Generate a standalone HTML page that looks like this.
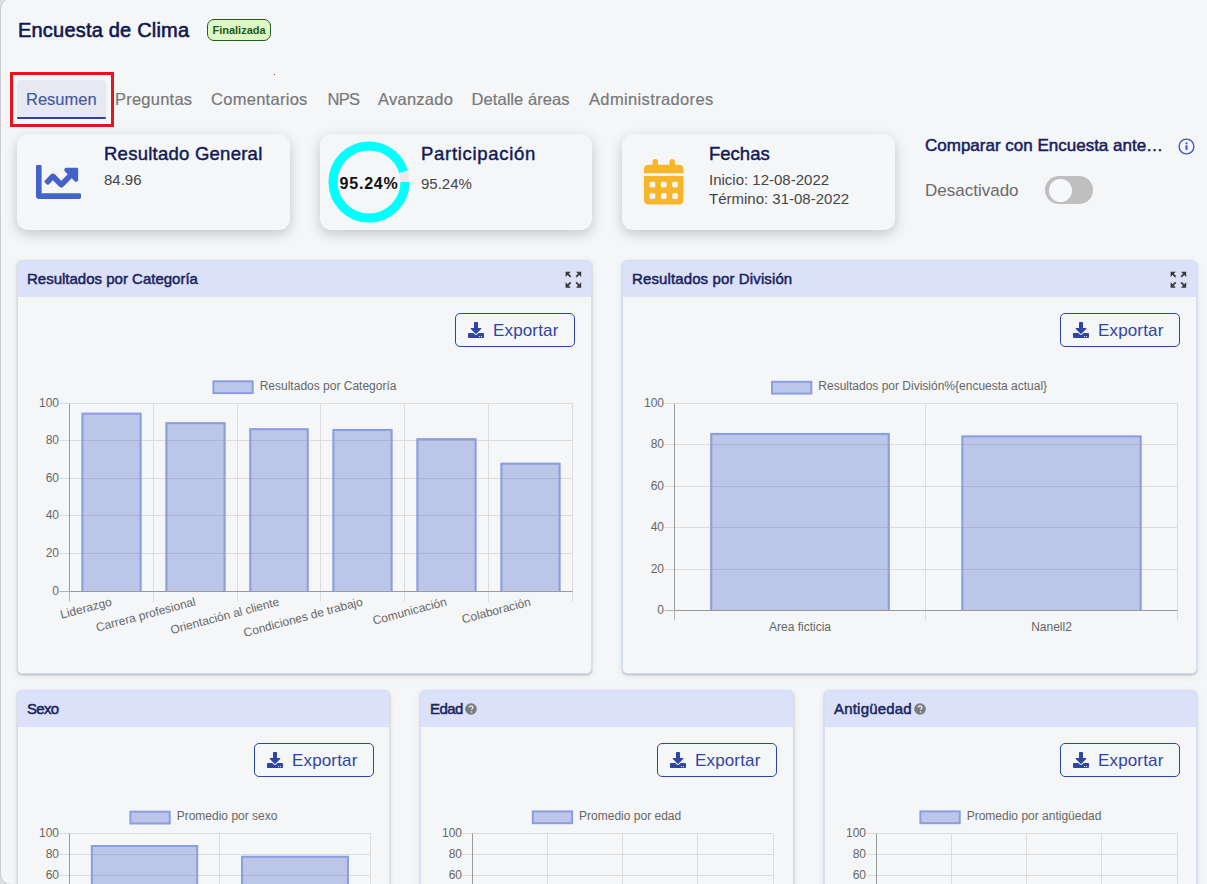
<!DOCTYPE html>
<html><head><meta charset="utf-8">
<style>
*{box-sizing:border-box;margin:0;padding:0}
html,body{width:1207px;height:884px;overflow:hidden;background:#dcdde2;font-family:"Liberation Sans",sans-serif}
.page{position:absolute;left:1px;top:-1px;width:1240px;height:885px;background:#f5f6f8;border-radius:10px;box-shadow:-1px 0 1px rgba(0,0,0,.08)}
.abs{position:absolute;white-space:nowrap}
.title{left:18px;top:18px;font-size:20px;letter-spacing:.2px;color:#111851;line-height:24px;-webkit-text-stroke:.6px #111851}
.badge{left:207px;top:19px;width:64px;height:22px;background:#dff7c4;border:1px solid #1f5e1f;border-radius:7px;font-size:11px;font-weight:bold;color:#1c5a1c;text-align:center;line-height:20px}
.redbox{left:10px;top:72px;width:104px;height:55px;border:3px solid #e8131d}
.tabbg{left:17px;top:80px;width:89px;height:39px;background:#e6e8f2;border-radius:4px 4px 0 0}
.tabline{left:17px;top:117px;width:89px;height:2px;background:#2c40a6;border-radius:1px}
.tab{top:89px;font-size:16.5px;color:#787878;line-height:20px;-webkit-text-stroke:.2px #787878}
.card{position:absolute;top:134px;width:273px;height:96px;background:#f5f6f8;border-radius:11px;box-shadow:0 4px 13px rgba(0,0,0,.2)}
.ctitle{position:absolute;font-size:18.5px;color:#121a58;line-height:22px;white-space:nowrap;-webkit-text-stroke:.45px #121a58}
.ctext{position:absolute;font-size:15px;color:#454545;line-height:19px;white-space:nowrap}
.panel{position:absolute;background:#f5f6f8;border-radius:5px;border:1px solid #d4ddf7;box-shadow:0 1px 2px rgba(0,0,0,.22),0 2px 9px rgba(0,0,0,.07);overflow:hidden}
.phead{position:absolute;left:0;top:0;right:0;height:36px;background:#dae1f8}
.ptitle{position:absolute;left:9px;top:10px;font-size:15px;-webkit-text-stroke:.5px #1b2461;color:#1b2461;line-height:16px;white-space:nowrap}
.qm{position:relative;display:inline-block;width:12px;height:12px;margin-left:2px;vertical-align:-1px}
.expand{position:absolute;top:10.2px;width:16px;height:16px}
.btn{position:absolute;top:52px;width:120px;height:34px;border:1.3px solid #2f45a5;border-radius:5px;color:#2f45a5;font-size:17px;line-height:32px}
.btn svg{position:absolute;left:11.7px;top:8px}
.btn span{position:absolute;left:37px;top:0.5px;letter-spacing:.15px}
svg.charts{position:absolute;left:0;top:0;font-family:"Liberation Sans",sans-serif;font-size:12px;fill:#666}
</style></head><body>
<div class="page"></div>
<div class="abs title">Encuesta de Clima</div>
<div class="abs badge">Finalizada</div>
<div class="abs tabbg"></div>
<div class="abs tabline"></div>
<div class="abs tab" style="left:26px;color:#3b53b1">Resumen</div>
<div class="abs tab" style="left:115px;letter-spacing:.23px">Preguntas</div>
<div class="abs tab" style="left:211px;letter-spacing:.28px">Comentarios</div>
<div class="abs tab" style="left:327.5px;letter-spacing:-.7px">NPS</div>
<div class="abs tab" style="left:378px;letter-spacing:.25px">Avanzado</div>
<div class="abs tab" style="left:471.5px;letter-spacing:.07px">Detalle áreas</div>
<div class="abs tab" style="left:589px;letter-spacing:.36px">Administradores</div>
<div class="abs redbox"></div>
<div class="abs" style="left:274px;top:74px;width:1px;height:1px;background:#e8131d"></div>

<div class="card" style="left:17px">
 <div style="position:absolute;left:19px;top:31px"><svg width="45" height="34" viewBox="0 64 512 384" preserveAspectRatio="none"><path fill="#4562c9" d="M496 384H64V80c0-8.84-7.16-16-16-16H16C7.16 64 0 71.16 0 80v336c0 17.670 14.33 32 32 32h464c8.84 0 16-7.16 16-16v-32c0-8.84-7.16-16-16-16zM464 96H345.94c-21.38 0-32.090 25.85-16.97 40.97l32.4 32.4L288 242.75l-73.37-73.37c-12.5-12.5-32.76-12.5-45.25 0l-68.69 68.69c-6.25 6.25-6.25 16.38 0 22.63l22.62 22.62c6.25 6.25 16.38 6.25 22.63 0L192 237.25l73.37 73.37c12.5 12.5 32.76 12.5 45.250 0l96-96 32.4 32.4c15.12 15.12 40.97 4.41 40.97-16.97V112c.01-8.84-7.15-16-15.99-16z"/></svg></div>
 <div class="ctitle" style="left:87px;top:9px;letter-spacing:.25px">Resultado General</div>
 <div class="ctext" style="left:87px;top:36px">84.96</div>
</div>
<div class="card" style="left:320px;width:272px">
 <svg width="90" height="90" viewBox="0 0 90 90" style="position:absolute;left:4px;top:3px">
  <circle cx="45" cy="45" r="36" fill="none" stroke="#e8e9eb" stroke-width="9"/>
  <circle cx="45" cy="45" r="36" fill="none" stroke="#00ffff" stroke-width="9" stroke-dasharray="215.43 300" />
 </svg>
 <div class="abs" style="left:19.5px;top:40.5px;font-size:16px;font-weight:bold;letter-spacing:.8px;color:#111;line-height:18px">95.24%</div>
 <div class="ctitle" style="left:101px;top:9px;letter-spacing:.7px">Participación</div>
 <div class="ctext" style="left:101px;top:40px">95.24%</div>
</div>
<div class="card" style="left:622px">
 <div style="position:absolute;left:22px;top:25px"><svg width="39.5" height="45.6" viewBox="0 0 448 512" preserveAspectRatio="none"><path fill="#f7b52c" d="M128 0c17.7 0 32 14.3 32 32V64H288V32c0-17.7 14.3-32 32-32s32 14.3 32 32V64h48c26.5 0 48 21.5 48 48v48H0V112C0 85.5 21.5 64 48 64H96V32c0-17.7 14.3-32 32-32zM0 192H448V464c0 26.5-21.5 48-48 48H48c-26.5 0-48-21.5-48-48V192zm64 80v32c0 8.8 7.2 16 16 16h32c8.8 0 16-7.2 16-16V272c0-8.8-7.2-16-16-16H80c-8.8 0-16 7.2-16 16zm128 0v32c0 8.8 7.2 16 16 16h32c8.8 0 16-7.2 16-16V272c0-8.8-7.2-16-16-16H208c-8.8 0-16 7.2-16 16zm144-16c-8.8 0-16 7.2-16 16v32c0 8.8 7.2 16 16 16h32c8.8 0 16-7.2 16-16V272c0-8.8-7.2-16-16-16H336zM64 400v32c0 8.8 7.2 16 16 16h32c8.8 0 16-7.2 16-16V400c0-8.8-7.2-16-16-16H80c-8.8 0-16 7.2-16 16zm144-16c-8.8 0-16 7.2-16 16v32c0 8.8 7.2 16 16 16h32c8.8 0 16-7.2 16-16V400c0-8.8-7.2-16-16-16H208zm112 16v32c0 8.8 7.2 16 16 16h32c8.8 0 16-7.2 16-16V400c0-8.8-7.2-16-16-16H336c-8.8 0-16 7.2-16 16z"/></svg></div>
 <div class="ctitle" style="left:87px;top:9px">Fechas</div>
 <div class="ctext" style="left:87px;top:36px">Inicio: 12-08-2022</div>
 <div class="ctext" style="left:87px;top:55px">Término: 31-08-2022</div>
</div>
<div class="abs" style="left:925px;top:137px;font-size:17px;-webkit-text-stroke:.5px #172060;color:#172060;line-height:18px">Comparar con Encuesta ante…</div>
<div class="abs" style="left:1178.3px;top:137.6px"><svg width="17" height="17" viewBox="0 0 17 17"><circle cx="8.5" cy="8.5" r="7.4" fill="none" stroke="#3a56c8" stroke-width="1.4"/><rect x="7.5" y="7.3" width="2" height="4.6" fill="#3a56c8"/><circle cx="8.5" cy="5.3" r="1.1" fill="#3a56c8"/></svg></div>
<div class="abs" style="left:925px;top:181px;font-size:17px;color:#6a6a6a;line-height:19px">Desactivado</div>
<div class="abs" style="left:1045px;top:176px;width:48px;height:28px;border-radius:14px;background:#bfbfc0"></div>
<div class="abs" style="left:1049px;top:178.5px;width:23px;height:23px;border-radius:50%;background:#f7f8fb"></div>

<div class="panel" style="left:17px;top:260px;width:575px;height:414px"><div class="phead"></div><div class="ptitle"><span style="letter-spacing:0px">Resultados por Categoría</span></div><div class="expand" style="left:547.4px"><svg width="20.8" height="21.33" viewBox="0 0 24 24" preserveAspectRatio="none" style="position:absolute;left:-2.6px;top:-2.67px"><path fill="#3a3a3a" d="M15 3l2.3 2.3-2.89 2.87 1.42 1.42L18.7 6.7 21 9V3zM3 9l2.3-2.3 2.87 2.89 1.42-1.42L6.7 5.3 9 3H3zm6 12l-2.3-2.3 2.89-2.87-1.42-1.42L5.3 17.3 3 15v6zm12-6l-2.3 2.3-2.87-2.89-1.42 1.42 2.89 2.87L15 21h6z"/></svg></div><div class="btn" style="left:437px"><svg width="16" height="16" viewBox="0 0 512 512"><path fill="#2f45a5" d="M216 0h80c13.3 0 24 10.7 24 24v168h87.7c17.8 0 26.7 21.5 14.1 34.1L269.7 378.3c-7.5 7.5-19.8 7.5-27.3 0L90.1 226.1c-12.6-12.6-3.7-34.1 14.1-34.1H192V24c0-13.3 10.7-24 24-24zm296 376v112c0 13.3-10.7 24-24 24H24c-13.3 0-24-10.7-24-24V376c0-13.3 10.7-24 24-24h146.7l49 49c20.1 20.1 52.5 20.1 72.6 0l49-49H488c13.3 0 24 10.7 24 24zm-124 88c0-11-9-20-20-20s-20 9-20 20 9 20 20 20 20-9 20-20zm64 0c0-11-9-20-20-20s-20 9-20 20 9 20 20 20 20-9 20-20z"/></svg><span>Exportar</span></div></div>
<div class="panel" style="left:622px;top:260px;width:575px;height:414px"><div class="phead"></div><div class="ptitle"><span style="letter-spacing:0.12px">Resultados por División</span></div><div class="expand" style="left:547.4px"><svg width="20.8" height="21.33" viewBox="0 0 24 24" preserveAspectRatio="none" style="position:absolute;left:-2.6px;top:-2.67px"><path fill="#3a3a3a" d="M15 3l2.3 2.3-2.89 2.87 1.42 1.42L18.7 6.7 21 9V3zM3 9l2.3-2.3 2.87 2.89 1.42-1.42L6.7 5.3 9 3H3zm6 12l-2.3-2.3 2.89-2.87-1.42-1.42L5.3 17.3 3 15v6zm12-6l-2.3 2.3-2.87-2.89-1.42 1.42 2.89 2.87L15 21h6z"/></svg></div><div class="btn" style="left:437px"><svg width="16" height="16" viewBox="0 0 512 512"><path fill="#2f45a5" d="M216 0h80c13.3 0 24 10.7 24 24v168h87.7c17.8 0 26.7 21.5 14.1 34.1L269.7 378.3c-7.5 7.5-19.8 7.5-27.3 0L90.1 226.1c-12.6-12.6-3.7-34.1 14.1-34.1H192V24c0-13.3 10.7-24 24-24zm296 376v112c0 13.3-10.7 24-24 24H24c-13.3 0-24-10.7-24-24V376c0-13.3 10.7-24 24-24h146.7l49 49c20.1 20.1 52.5 20.1 72.6 0l49-49H488c13.3 0 24 10.7 24 24zm-124 88c0-11-9-20-20-20s-20 9-20 20 9 20 20 20 20-9 20-20zm64 0c0-11-9-20-20-20s-20 9-20 20 9 20 20 20 20-9 20-20z"/></svg><span>Exportar</span></div></div>
<div class="panel" style="left:17px;top:690px;width:373px;height:300px"><div class="phead"></div><div class="ptitle"><span style="letter-spacing:-0.7px">Sexo</span></div><div class="btn" style="left:236px"><svg width="16" height="16" viewBox="0 0 512 512"><path fill="#2f45a5" d="M216 0h80c13.3 0 24 10.7 24 24v168h87.7c17.8 0 26.7 21.5 14.1 34.1L269.7 378.3c-7.5 7.5-19.8 7.5-27.3 0L90.1 226.1c-12.6-12.6-3.7-34.1 14.1-34.1H192V24c0-13.3 10.7-24 24-24zm296 376v112c0 13.3-10.7 24-24 24H24c-13.3 0-24-10.7-24-24V376c0-13.3 10.7-24 24-24h146.7l49 49c20.1 20.1 52.5 20.1 72.6 0l49-49H488c13.3 0 24 10.7 24 24zm-124 88c0-11-9-20-20-20s-20 9-20 20 9 20 20 20 20-9 20-20zm64 0c0-11-9-20-20-20s-20 9-20 20 9 20 20 20 20-9 20-20z"/></svg><span>Exportar</span></div></div>
<div class="panel" style="left:420px;top:690px;width:374px;height:300px"><div class="phead"></div><div class="ptitle"><span style="letter-spacing:-0.55px">Edad</span><span class="qm"><svg width="12" height="12" viewBox="0 0 12 12" style="position:absolute"><circle cx="6" cy="6" r="5.8" fill="#7b7b7b"/><path d="M4.3 4.6c0-1 .8-1.7 1.8-1.7s1.8.7 1.8 1.6c0 1.2-1.3 1.2-1.3 2.2" fill="none" stroke="#dae1f8" stroke-width="1.5"/><rect x="5.8" y="8.2" width="1.5" height="1.5" fill="#dae1f8"/></svg></span></div><div class="btn" style="left:236px"><svg width="16" height="16" viewBox="0 0 512 512"><path fill="#2f45a5" d="M216 0h80c13.3 0 24 10.7 24 24v168h87.7c17.8 0 26.7 21.5 14.1 34.1L269.7 378.3c-7.5 7.5-19.8 7.5-27.3 0L90.1 226.1c-12.6-12.6-3.7-34.1 14.1-34.1H192V24c0-13.3 10.7-24 24-24zm296 376v112c0 13.3-10.7 24-24 24H24c-13.3 0-24-10.7-24-24V376c0-13.3 10.7-24 24-24h146.7l49 49c20.1 20.1 52.5 20.1 72.6 0l49-49H488c13.3 0 24 10.7 24 24zm-124 88c0-11-9-20-20-20s-20 9-20 20 9 20 20 20 20-9 20-20zm64 0c0-11-9-20-20-20s-20 9-20 20 9 20 20 20 20-9 20-20z"/></svg><span>Exportar</span></div></div>
<div class="panel" style="left:824px;top:690px;width:373px;height:300px"><div class="phead"></div><div class="ptitle"><span style="letter-spacing:0.2px">Antigüedad</span><span class="qm"><svg width="12" height="12" viewBox="0 0 12 12" style="position:absolute"><circle cx="6" cy="6" r="5.8" fill="#7b7b7b"/><path d="M4.3 4.6c0-1 .8-1.7 1.8-1.7s1.8.7 1.8 1.6c0 1.2-1.3 1.2-1.3 2.2" fill="none" stroke="#dae1f8" stroke-width="1.5"/><rect x="5.8" y="8.2" width="1.5" height="1.5" fill="#dae1f8"/></svg></span></div><div class="btn" style="left:235px"><svg width="16" height="16" viewBox="0 0 512 512"><path fill="#2f45a5" d="M216 0h80c13.3 0 24 10.7 24 24v168h87.7c17.8 0 26.7 21.5 14.1 34.1L269.7 378.3c-7.5 7.5-19.8 7.5-27.3 0L90.1 226.1c-12.6-12.6-3.7-34.1 14.1-34.1H192V24c0-13.3 10.7-24 24-24zm296 376v112c0 13.3-10.7 24-24 24H24c-13.3 0-24-10.7-24-24V376c0-13.3 10.7-24 24-24h146.7l49 49c20.1 20.1 52.5 20.1 72.6 0l49-49H488c13.3 0 24 10.7 24 24zm-124 88c0-11-9-20-20-20s-20 9-20 20 9 20 20 20 20-9 20-20zm64 0c0-11-9-20-20-20s-20 9-20 20 9 20 20 20 20-9 20-20z"/></svg><span>Exportar</span></div></div>
<svg class="charts" width="1207" height="884" viewBox="0 0 1207 884">
<rect x="213.4" y="381.3" width="39.3" height="11.8" fill="#bcc6ea" stroke="#8c9de0" stroke-width="2"/><text x="259.7" y="389.9">Resultados por Categoría</text>
<line x1="69.5" y1="403.5" x2="572.5" y2="403.5" stroke="#dcdcdc" stroke-width="1"/>
<line x1="59.5" y1="403.5" x2="69.5" y2="403.5" stroke="#dcdcdc" stroke-width="1"/>
<line x1="69.5" y1="440.5" x2="572.5" y2="440.5" stroke="#dcdcdc" stroke-width="1"/>
<line x1="59.5" y1="440.5" x2="69.5" y2="440.5" stroke="#dcdcdc" stroke-width="1"/>
<line x1="69.5" y1="478.5" x2="572.5" y2="478.5" stroke="#dcdcdc" stroke-width="1"/>
<line x1="59.5" y1="478.5" x2="69.5" y2="478.5" stroke="#dcdcdc" stroke-width="1"/>
<line x1="69.5" y1="515.5" x2="572.5" y2="515.5" stroke="#dcdcdc" stroke-width="1"/>
<line x1="59.5" y1="515.5" x2="69.5" y2="515.5" stroke="#dcdcdc" stroke-width="1"/>
<line x1="69.5" y1="553.5" x2="572.5" y2="553.5" stroke="#dcdcdc" stroke-width="1"/>
<line x1="59.5" y1="553.5" x2="69.5" y2="553.5" stroke="#dcdcdc" stroke-width="1"/>
<line x1="153.5" y1="403.5" x2="153.5" y2="601.5" stroke="#dcdcdc" stroke-width="1"/>
<line x1="237.5" y1="403.5" x2="237.5" y2="601.5" stroke="#dcdcdc" stroke-width="1"/>
<line x1="320.5" y1="403.5" x2="320.5" y2="601.5" stroke="#dcdcdc" stroke-width="1"/>
<line x1="404.5" y1="403.5" x2="404.5" y2="601.5" stroke="#dcdcdc" stroke-width="1"/>
<line x1="488.5" y1="403.5" x2="488.5" y2="601.5" stroke="#dcdcdc" stroke-width="1"/>
<line x1="572.5" y1="403.5" x2="572.5" y2="601.5" stroke="#dcdcdc" stroke-width="1"/>
<rect x="81.47" y="412.71" width="60.06" height="178.79" fill="rgba(55,86,199,.3)"/>
<path d="M82.47 591.5V413.71H140.53V591.5" fill="none" stroke="#8c9de0" stroke-width="2"/>
<rect x="165.47" y="422.3" width="60.06" height="169.2" fill="rgba(55,86,199,.3)"/>
<path d="M166.47 591.5V423.3H224.53V591.5" fill="none" stroke="#8c9de0" stroke-width="2"/>
<rect x="249.33" y="428.32" width="59.34" height="163.18" fill="rgba(55,86,199,.3)"/>
<path d="M250.33 591.5V429.32H307.67V591.5" fill="none" stroke="#8c9de0" stroke-width="2"/>
<rect x="332.47" y="428.88" width="60.06" height="162.62" fill="rgba(55,86,199,.3)"/>
<path d="M333.47 591.5V429.88H391.53V591.5" fill="none" stroke="#8c9de0" stroke-width="2"/>
<rect x="416.47" y="438.28" width="60.06" height="153.22" fill="rgba(55,86,199,.3)"/>
<path d="M417.47 591.5V439.28H475.53V591.5" fill="none" stroke="#8c9de0" stroke-width="2"/>
<rect x="500.47" y="462.72" width="60.06" height="128.78" fill="rgba(55,86,199,.3)"/>
<path d="M501.47 591.5V463.72H559.53V591.5" fill="none" stroke="#8c9de0" stroke-width="2"/>
<line x1="69.5" y1="403.5" x2="69.5" y2="591.5" stroke="#9a9a9a" stroke-width="1"/>
<line x1="69.5" y1="591.5" x2="69.5" y2="601.5" stroke="#b4b4b4" stroke-width="1"/>
<line x1="59.5" y1="591.5" x2="69.5" y2="591.5" stroke="#b4b4b4" stroke-width="1"/>
<line x1="69.5" y1="591.5" x2="572.5" y2="591.5" stroke="#9a9a9a" stroke-width="1"/>
<text x="59" y="407.1" text-anchor="end">100</text>
<text x="59" y="444.1" text-anchor="end">80</text>
<text x="59" y="482.1" text-anchor="end">60</text>
<text x="59" y="519.1" text-anchor="end">40</text>
<text x="59" y="557.1" text-anchor="end">20</text>
<text x="59" y="595.1" text-anchor="end">0</text>
<text x="112.4" y="605.2" text-anchor="end" transform="rotate(-15 112.4 605.2)">Liderazgo</text>
<text x="196.4" y="605.2" text-anchor="end" transform="rotate(-15 196.4 605.2)">Carrera profesional</text>
<text x="279.9" y="605.2" text-anchor="end" transform="rotate(-15 279.9 605.2)">Orientación al cliente</text>
<text x="363.4" y="605.2" text-anchor="end" transform="rotate(-15 363.4 605.2)">Condiciones de trabajo</text>
<text x="447.4" y="605.2" text-anchor="end" transform="rotate(-15 447.4 605.2)">Comunicación</text>
<text x="531.4" y="605.2" text-anchor="end" transform="rotate(-15 531.4 605.2)">Colaboración</text>
<rect x="772" y="381.8" width="39.3" height="11.8" fill="#bcc6ea" stroke="#8c9de0" stroke-width="2"/><text x="818.3" y="390.4">Resultados por División%{encuesta actual}</text>
<line x1="674.5" y1="403.5" x2="1177.5" y2="403.5" stroke="#dcdcdc" stroke-width="1"/>
<line x1="664.5" y1="403.5" x2="674.5" y2="403.5" stroke="#dcdcdc" stroke-width="1"/>
<line x1="674.5" y1="444.5" x2="1177.5" y2="444.5" stroke="#dcdcdc" stroke-width="1"/>
<line x1="664.5" y1="444.5" x2="674.5" y2="444.5" stroke="#dcdcdc" stroke-width="1"/>
<line x1="674.5" y1="486.5" x2="1177.5" y2="486.5" stroke="#dcdcdc" stroke-width="1"/>
<line x1="664.5" y1="486.5" x2="674.5" y2="486.5" stroke="#dcdcdc" stroke-width="1"/>
<line x1="674.5" y1="527.5" x2="1177.5" y2="527.5" stroke="#dcdcdc" stroke-width="1"/>
<line x1="664.5" y1="527.5" x2="674.5" y2="527.5" stroke="#dcdcdc" stroke-width="1"/>
<line x1="674.5" y1="569.5" x2="1177.5" y2="569.5" stroke="#dcdcdc" stroke-width="1"/>
<line x1="664.5" y1="569.5" x2="674.5" y2="569.5" stroke="#dcdcdc" stroke-width="1"/>
<line x1="925.5" y1="403.5" x2="925.5" y2="620.5" stroke="#dcdcdc" stroke-width="1"/>
<line x1="1177.5" y1="403.5" x2="1177.5" y2="620.5" stroke="#dcdcdc" stroke-width="1"/>
<rect x="710.27" y="432.89" width="179.47" height="177.61" fill="rgba(55,86,199,.3)"/>
<path d="M711.27 610.5V433.89H888.73V610.5" fill="none" stroke="#8c9de0" stroke-width="2"/>
<rect x="961.41" y="435.38" width="180.18" height="175.12" fill="rgba(55,86,199,.3)"/>
<path d="M962.41 610.5V436.38H1140.59V610.5" fill="none" stroke="#8c9de0" stroke-width="2"/>
<line x1="674.5" y1="403.5" x2="674.5" y2="610.5" stroke="#9a9a9a" stroke-width="1"/>
<line x1="674.5" y1="610.5" x2="674.5" y2="620.5" stroke="#b4b4b4" stroke-width="1"/>
<line x1="664.5" y1="610.5" x2="674.5" y2="610.5" stroke="#b4b4b4" stroke-width="1"/>
<line x1="674.5" y1="610.5" x2="1177.5" y2="610.5" stroke="#9a9a9a" stroke-width="1"/>
<text x="664" y="407.1" text-anchor="end">100</text>
<text x="664" y="448.1" text-anchor="end">80</text>
<text x="664" y="490.1" text-anchor="end">60</text>
<text x="664" y="531.1" text-anchor="end">40</text>
<text x="664" y="573.1" text-anchor="end">20</text>
<text x="664" y="614.1" text-anchor="end">0</text>
<text x="800" y="631" text-anchor="middle">Area ficticia</text>
<text x="1051.5" y="631" text-anchor="middle">Nanell2</text>
<rect x="130.4" y="811.7" width="39.3" height="11.8" fill="#bcc6ea" stroke="#8c9de0" stroke-width="2"/><text x="176.7" y="820.3">Promedio por sexo</text>
<line x1="69.5" y1="833.5" x2="370.5" y2="833.5" stroke="#dcdcdc" stroke-width="1"/>
<line x1="59.5" y1="833.5" x2="69.5" y2="833.5" stroke="#dcdcdc" stroke-width="1"/>
<line x1="69.5" y1="854.5" x2="370.5" y2="854.5" stroke="#dcdcdc" stroke-width="1"/>
<line x1="59.5" y1="854.5" x2="69.5" y2="854.5" stroke="#dcdcdc" stroke-width="1"/>
<line x1="69.5" y1="875.5" x2="370.5" y2="875.5" stroke="#dcdcdc" stroke-width="1"/>
<line x1="59.5" y1="875.5" x2="69.5" y2="875.5" stroke="#dcdcdc" stroke-width="1"/>
<line x1="69.5" y1="896.5" x2="370.5" y2="896.5" stroke="#dcdcdc" stroke-width="1"/>
<line x1="59.5" y1="896.5" x2="69.5" y2="896.5" stroke="#dcdcdc" stroke-width="1"/>
<line x1="69.5" y1="917.5" x2="370.5" y2="917.5" stroke="#dcdcdc" stroke-width="1"/>
<line x1="59.5" y1="917.5" x2="69.5" y2="917.5" stroke="#dcdcdc" stroke-width="1"/>
<line x1="219.5" y1="833.5" x2="219.5" y2="948.5" stroke="#dcdcdc" stroke-width="1"/>
<line x1="370.5" y1="833.5" x2="370.5" y2="948.5" stroke="#dcdcdc" stroke-width="1"/>
<rect x="90.88" y="845.05" width="107.25" height="93.45" fill="rgba(55,86,199,.3)"/>
<path d="M91.88 938.5V846.05H197.12V938.5" fill="none" stroke="#8c9de0" stroke-width="2"/>
<rect x="241.02" y="855.87" width="107.96" height="82.64" fill="rgba(55,86,199,.3)"/>
<path d="M242.02 938.5V856.87H347.98V938.5" fill="none" stroke="#8c9de0" stroke-width="2"/>
<line x1="69.5" y1="833.5" x2="69.5" y2="938.5" stroke="#9a9a9a" stroke-width="1"/>
<line x1="69.5" y1="938.5" x2="69.5" y2="948.5" stroke="#b4b4b4" stroke-width="1"/>
<line x1="59.5" y1="938.5" x2="69.5" y2="938.5" stroke="#b4b4b4" stroke-width="1"/>
<line x1="69.5" y1="938.5" x2="370.5" y2="938.5" stroke="#9a9a9a" stroke-width="1"/>
<text x="59" y="837.1" text-anchor="end">100</text>
<text x="59" y="858.1" text-anchor="end">80</text>
<text x="59" y="879.1" text-anchor="end">60</text>
<text x="59" y="900.1" text-anchor="end">40</text>
<text x="59" y="921.1" text-anchor="end">20</text>
<text x="59" y="942.1" text-anchor="end">0</text>
<rect x="532.8" y="811.4" width="39.3" height="11.8" fill="#bcc6ea" stroke="#8c9de0" stroke-width="2"/><text x="579.1" y="820">Promedio por edad</text>
<line x1="472.5" y1="833.5" x2="773.5" y2="833.5" stroke="#dcdcdc" stroke-width="1"/>
<line x1="462.5" y1="833.5" x2="472.5" y2="833.5" stroke="#dcdcdc" stroke-width="1"/>
<line x1="472.5" y1="854.5" x2="773.5" y2="854.5" stroke="#dcdcdc" stroke-width="1"/>
<line x1="462.5" y1="854.5" x2="472.5" y2="854.5" stroke="#dcdcdc" stroke-width="1"/>
<line x1="472.5" y1="875.5" x2="773.5" y2="875.5" stroke="#dcdcdc" stroke-width="1"/>
<line x1="462.5" y1="875.5" x2="472.5" y2="875.5" stroke="#dcdcdc" stroke-width="1"/>
<line x1="472.5" y1="896.5" x2="773.5" y2="896.5" stroke="#dcdcdc" stroke-width="1"/>
<line x1="462.5" y1="896.5" x2="472.5" y2="896.5" stroke="#dcdcdc" stroke-width="1"/>
<line x1="472.5" y1="917.5" x2="773.5" y2="917.5" stroke="#dcdcdc" stroke-width="1"/>
<line x1="462.5" y1="917.5" x2="472.5" y2="917.5" stroke="#dcdcdc" stroke-width="1"/>
<line x1="547.5" y1="833.5" x2="547.5" y2="948.5" stroke="#dcdcdc" stroke-width="1"/>
<line x1="622.5" y1="833.5" x2="622.5" y2="948.5" stroke="#dcdcdc" stroke-width="1"/>
<line x1="697.5" y1="833.5" x2="697.5" y2="948.5" stroke="#dcdcdc" stroke-width="1"/>
<line x1="773.5" y1="833.5" x2="773.5" y2="948.5" stroke="#dcdcdc" stroke-width="1"/>
<line x1="472.5" y1="833.5" x2="472.5" y2="938.5" stroke="#9a9a9a" stroke-width="1"/>
<line x1="472.5" y1="938.5" x2="472.5" y2="948.5" stroke="#b4b4b4" stroke-width="1"/>
<line x1="462.5" y1="938.5" x2="472.5" y2="938.5" stroke="#b4b4b4" stroke-width="1"/>
<line x1="472.5" y1="938.5" x2="773.5" y2="938.5" stroke="#9a9a9a" stroke-width="1"/>
<text x="462" y="837.1" text-anchor="end">100</text>
<text x="462" y="858.1" text-anchor="end">80</text>
<text x="462" y="879.1" text-anchor="end">60</text>
<text x="462" y="900.1" text-anchor="end">40</text>
<text x="462" y="921.1" text-anchor="end">20</text>
<text x="462" y="942.1" text-anchor="end">0</text>
<rect x="920.4" y="811.4" width="39.3" height="11.8" fill="#bcc6ea" stroke="#8c9de0" stroke-width="2"/><text x="966.7" y="820">Promedio por antigüedad</text>
<line x1="876.5" y1="833.5" x2="1177.5" y2="833.5" stroke="#dcdcdc" stroke-width="1"/>
<line x1="866.5" y1="833.5" x2="876.5" y2="833.5" stroke="#dcdcdc" stroke-width="1"/>
<line x1="876.5" y1="854.5" x2="1177.5" y2="854.5" stroke="#dcdcdc" stroke-width="1"/>
<line x1="866.5" y1="854.5" x2="876.5" y2="854.5" stroke="#dcdcdc" stroke-width="1"/>
<line x1="876.5" y1="875.5" x2="1177.5" y2="875.5" stroke="#dcdcdc" stroke-width="1"/>
<line x1="866.5" y1="875.5" x2="876.5" y2="875.5" stroke="#dcdcdc" stroke-width="1"/>
<line x1="876.5" y1="896.5" x2="1177.5" y2="896.5" stroke="#dcdcdc" stroke-width="1"/>
<line x1="866.5" y1="896.5" x2="876.5" y2="896.5" stroke="#dcdcdc" stroke-width="1"/>
<line x1="876.5" y1="917.5" x2="1177.5" y2="917.5" stroke="#dcdcdc" stroke-width="1"/>
<line x1="866.5" y1="917.5" x2="876.5" y2="917.5" stroke="#dcdcdc" stroke-width="1"/>
<line x1="951.5" y1="833.5" x2="951.5" y2="948.5" stroke="#dcdcdc" stroke-width="1"/>
<line x1="1026.5" y1="833.5" x2="1026.5" y2="948.5" stroke="#dcdcdc" stroke-width="1"/>
<line x1="1101.5" y1="833.5" x2="1101.5" y2="948.5" stroke="#dcdcdc" stroke-width="1"/>
<line x1="1177.5" y1="833.5" x2="1177.5" y2="948.5" stroke="#dcdcdc" stroke-width="1"/>
<line x1="876.5" y1="833.5" x2="876.5" y2="938.5" stroke="#9a9a9a" stroke-width="1"/>
<line x1="876.5" y1="938.5" x2="876.5" y2="948.5" stroke="#b4b4b4" stroke-width="1"/>
<line x1="866.5" y1="938.5" x2="876.5" y2="938.5" stroke="#b4b4b4" stroke-width="1"/>
<line x1="876.5" y1="938.5" x2="1177.5" y2="938.5" stroke="#9a9a9a" stroke-width="1"/>
<text x="866" y="837.1" text-anchor="end">100</text>
<text x="866" y="858.1" text-anchor="end">80</text>
<text x="866" y="879.1" text-anchor="end">60</text>
<text x="866" y="900.1" text-anchor="end">40</text>
<text x="866" y="921.1" text-anchor="end">20</text>
<text x="866" y="942.1" text-anchor="end">0</text>
</svg>
</body></html>
